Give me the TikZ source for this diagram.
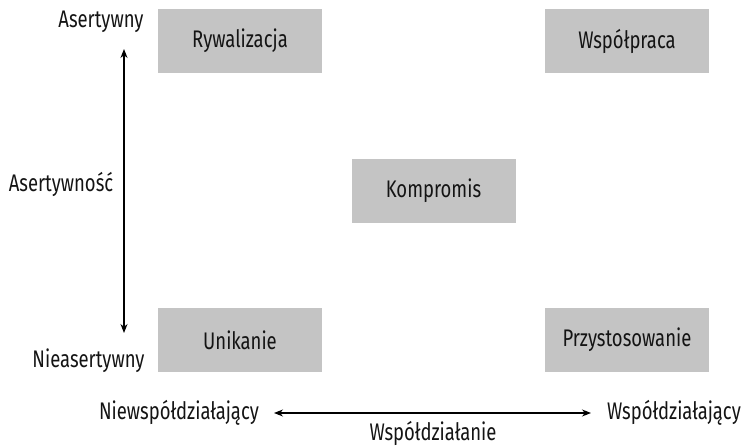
\documentclass[tikz,border=0pt]{standalone}
\usepackage{fontspec}
\setmainfont{Fira Sans}[FakeStretch=0.77]
\usetikzlibrary{positioning, arrows.meta}
\definecolor{boxgray}{RGB}{196,196,196}
\definecolor{ink}{RGB}{20,20,20}

\begin{document}
\begin{tikzpicture}[x=1pt,y=-1pt,font=\fontsize{24}{28}\selectfont,text=ink]
        \tikzset{box/.style={fill=boxgray, minimum width=164pt, minimum height=64pt, inner sep=0pt}}
        \tikzset{lbl/.style={anchor=base, inner sep=0pt}}
        \tikzset{axis/.style={{Stealth[length=9pt,width=7pt]}-{Stealth[length=9pt,width=7pt]}, line width=1.1pt}}
        \useasboundingbox (0,0) rectangle (742,446);
        % style boxes
        \node[box]  (riv)  at (240,41)    {Rywalizacja};
        \node[box]  (coop) at (627,41)    {Współpraca};
        \node[box]  (comp) at (433.5,191) {Kompromis};
        \node[box]  (avoid) at (240,340)  {Unikanie};
        \node[box]  (acc)  at (627,340)   {Przystosowanie};
        % axis labels
        \node[lbl]  (asr)  at (101,28)    {Asertywny};
        \node[lbl]  (nasr) at (88.5,368)  {Nieasertywny};
        \node[lbl]  (asrn) at (61,192)    {Asertywność};
        \node[lbl]  (nwsp) at (179,420)   {Niewspółdziałający};
        \node[lbl]  (wsp)  at (674,420)   {Współdziałający};
        \node[lbl]  (wspd) at (433,440)   {Współdziałanie};
        % axes
        \coordinate (vtop) at (124,49);
        \coordinate (vbot) at (124,333);
        \coordinate (hl)   at (274,413);
        \coordinate (hr)   at (591,413);
        \draw[axis] (vtop) -- (vbot);
        \draw[axis] (hl) -- (hr);
    \end{tikzpicture}
\end{document}
